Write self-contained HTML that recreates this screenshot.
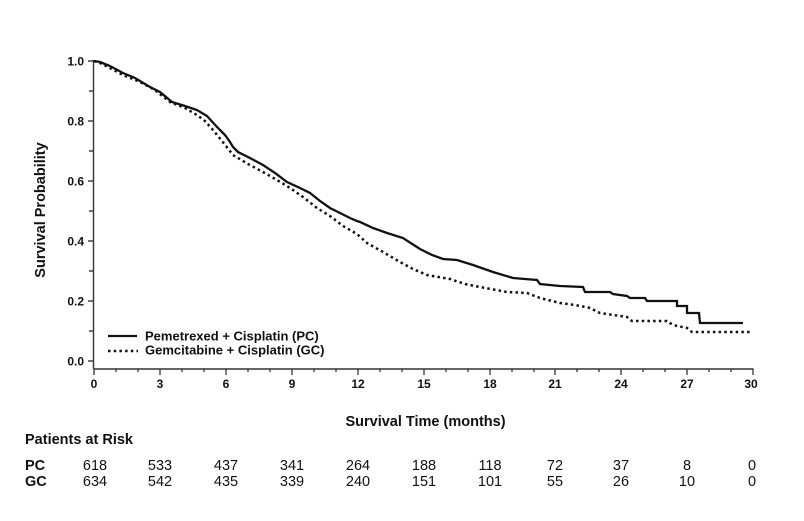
<!DOCTYPE html>
<html>
<head>
<meta charset="utf-8">
<style>
  html, body { margin: 0; padding: 0; background: #ffffff; }
  body { width: 804px; height: 521px; overflow: hidden; }
  svg { display: block; }
  text { font-family: "Liberation Sans", Arial, sans-serif; fill: #111; }
  .b { font-weight: bold; }
</style>
</head>
<body>
<svg width="804" height="521" viewBox="0 0 804 521" xmlns="http://www.w3.org/2000/svg">
  <rect x="0" y="0" width="804" height="521" fill="#ffffff"/>

  <!-- Axes -->
  <g stroke="#333" stroke-width="1.4" fill="none">
    <line x1="93.5" y1="60" x2="93.5" y2="369"/>
    <line x1="93.5" y1="369" x2="753.5" y2="369"/>
    <line x1="88" y1="61" x2="93.5" y2="61"/>
    <line x1="88" y1="121" x2="93.5" y2="121"/>
    <line x1="88" y1="181" x2="93.5" y2="181"/>
    <line x1="88" y1="241" x2="93.5" y2="241"/>
    <line x1="88" y1="301" x2="93.5" y2="301"/>
    <line x1="88" y1="361" x2="93.5" y2="361"/>
    <line x1="89" y1="91" x2="93.5" y2="91"/>
    <line x1="89" y1="151" x2="93.5" y2="151"/>
    <line x1="89" y1="211" x2="93.5" y2="211"/>
    <line x1="89" y1="271" x2="93.5" y2="271"/>
    <line x1="89" y1="331" x2="93.5" y2="331"/>
  </g>
  <g stroke="#333" stroke-width="1.3">
    <line x1="94" y1="369" x2="94" y2="375"/>
    <line x1="116" y1="369" x2="116" y2="372"/>
    <line x1="138" y1="369" x2="138" y2="372"/>
    <line x1="160" y1="369" x2="160" y2="375"/>
    <line x1="182" y1="369" x2="182" y2="372"/>
    <line x1="204" y1="369" x2="204" y2="372"/>
    <line x1="226" y1="369" x2="226" y2="375"/>
    <line x1="248" y1="369" x2="248" y2="372"/>
    <line x1="270" y1="369" x2="270" y2="372"/>
    <line x1="292" y1="369" x2="292" y2="375"/>
    <line x1="314" y1="369" x2="314" y2="372"/>
    <line x1="336" y1="369" x2="336" y2="372"/>
    <line x1="358" y1="369" x2="358" y2="375"/>
    <line x1="380" y1="369" x2="380" y2="372"/>
    <line x1="402" y1="369" x2="402" y2="372"/>
    <line x1="424" y1="369" x2="424" y2="375"/>
    <line x1="446" y1="369" x2="446" y2="372"/>
    <line x1="468" y1="369" x2="468" y2="372"/>
    <line x1="490" y1="369" x2="490" y2="375"/>
    <line x1="512" y1="369" x2="512" y2="372"/>
    <line x1="534" y1="369" x2="534" y2="372"/>
    <line x1="555" y1="369" x2="555" y2="375"/>
    <line x1="577" y1="369" x2="577" y2="372"/>
    <line x1="599" y1="369" x2="599" y2="372"/>
    <line x1="621" y1="369" x2="621" y2="375"/>
    <line x1="643" y1="369" x2="643" y2="372"/>
    <line x1="665" y1="369" x2="665" y2="372"/>
    <line x1="687" y1="369" x2="687" y2="375"/>
    <line x1="709" y1="369" x2="709" y2="372"/>
    <line x1="731" y1="369" x2="731" y2="372"/>
    <line x1="753" y1="369" x2="753" y2="375"/>
  </g>

  <!-- y tick labels -->
  <g font-size="12" text-anchor="end">
    <text x="84" y="65.5" class="b">1.0</text>
    <text x="84" y="125.5" class="b">0.8</text>
    <text x="84" y="185.5" class="b">0.6</text>
    <text x="84" y="245.5" class="b">0.4</text>
    <text x="84" y="305.5" class="b">0.2</text>
    <text x="84" y="365.5" class="b">0.0</text>
  </g>

  <!-- x tick labels -->
  <g font-size="12" text-anchor="middle">
    <text x="94" y="388" class="b">0</text>
    <text x="160" y="388" class="b">3</text>
    <text x="226" y="388" class="b">6</text>
    <text x="292" y="388" class="b">9</text>
    <text x="358" y="388" class="b">12</text>
    <text x="424" y="388" class="b">15</text>
    <text x="490" y="388" class="b">18</text>
    <text x="555" y="388" class="b">21</text>
    <text x="621" y="388" class="b">24</text>
    <text x="687" y="388" class="b">27</text>
    <text x="751" y="388" class="b">30</text>
  </g>

  <!-- y axis title -->
  <text class="b" font-size="14.5" text-anchor="middle" transform="translate(45,210) rotate(-90)">Survival Probability</text>

  <!-- GC curve (dotted) -->
  <polyline fill="none" stroke="#111" stroke-width="2.5" stroke-dasharray="2.5 3.2"
    points="94,61 100,63 110,68 123,75 140,82 155,90 170,102 185,108 197,115 205,121 213,130 222,141 233,155 248,164 263,172 277,180 290,188 303,197 317,208 330,216 343,226 357,234 367,243 383,252 400,262 413,269 427,275 450,279 465,284 480,287 507,292 527,293 540,298 560,303 575,305 590,308 600,313 627,317 632,321 667,321 673,325 687,328 692,332 750,332"/>

  <!-- PC curve (solid) -->
  <polyline fill="none" stroke="#111" stroke-width="2.3" stroke-linejoin="miter"
    points="94,61 100,62 110,66 123,73 135,78 150,87 160,92 172,102 185,106 197,110 207,116 217,127 225,135 230,142 233,147 238,152 250,158 263,165 275,173 287,182 300,188 310,193 320,201 330,208 340,213 350,218 357,221 360,222 373,228 387,233 403,238 420,249 432,255 443,259 457,260 473,265 493,272 513,278 537,280 540,284 560,286 583,287 585,292 610,292 613,294 627,296 630,298 645,298 647,301 677,301 677,306 687,306 687,313 699,313 700,323 743,323"/>

  <!-- Legend -->
  <line x1="108" y1="336" x2="137" y2="336" stroke="#111" stroke-width="2.3"/>
  <line x1="108" y1="351" x2="138" y2="351" stroke="#111" stroke-width="2.5" stroke-dasharray="2.5 3.2"/>
  <text x="145" y="340.5" font-size="13" class="b">Pemetrexed + Cisplatin (PC)</text>
  <text x="145" y="354.5" font-size="13" class="b">Gemcitabine + Cisplatin (GC)</text>

  <!-- x axis title -->
  <text x="425.5" y="426" font-size="14.5" class="b" text-anchor="middle">Survival Time (months)</text>

  <!-- Patients at risk -->
  <text x="25" y="444" font-size="14.5" class="b">Patients at Risk</text>
  <text x="25" y="470" font-size="14.5" class="b">PC</text>
  <text x="25" y="486" font-size="14.5" class="b">GC</text>

  <g font-size="14.5" text-anchor="middle">
    <text x="95" y="470">618</text>
    <text x="160" y="470">533</text>
    <text x="226" y="470">437</text>
    <text x="292" y="470">341</text>
    <text x="358" y="470">264</text>
    <text x="424" y="470">188</text>
    <text x="490" y="470">118</text>
    <text x="555" y="470">72</text>
    <text x="621" y="470">37</text>
    <text x="687" y="470">8</text>
    <text x="752" y="470">0</text>

    <text x="95" y="486">634</text>
    <text x="160" y="486">542</text>
    <text x="226" y="486">435</text>
    <text x="292" y="486">339</text>
    <text x="358" y="486">240</text>
    <text x="424" y="486">151</text>
    <text x="490" y="486">101</text>
    <text x="555" y="486">55</text>
    <text x="621" y="486">26</text>
    <text x="687" y="486">10</text>
    <text x="752" y="486">0</text>
  </g>
</svg>
</body>
</html>
